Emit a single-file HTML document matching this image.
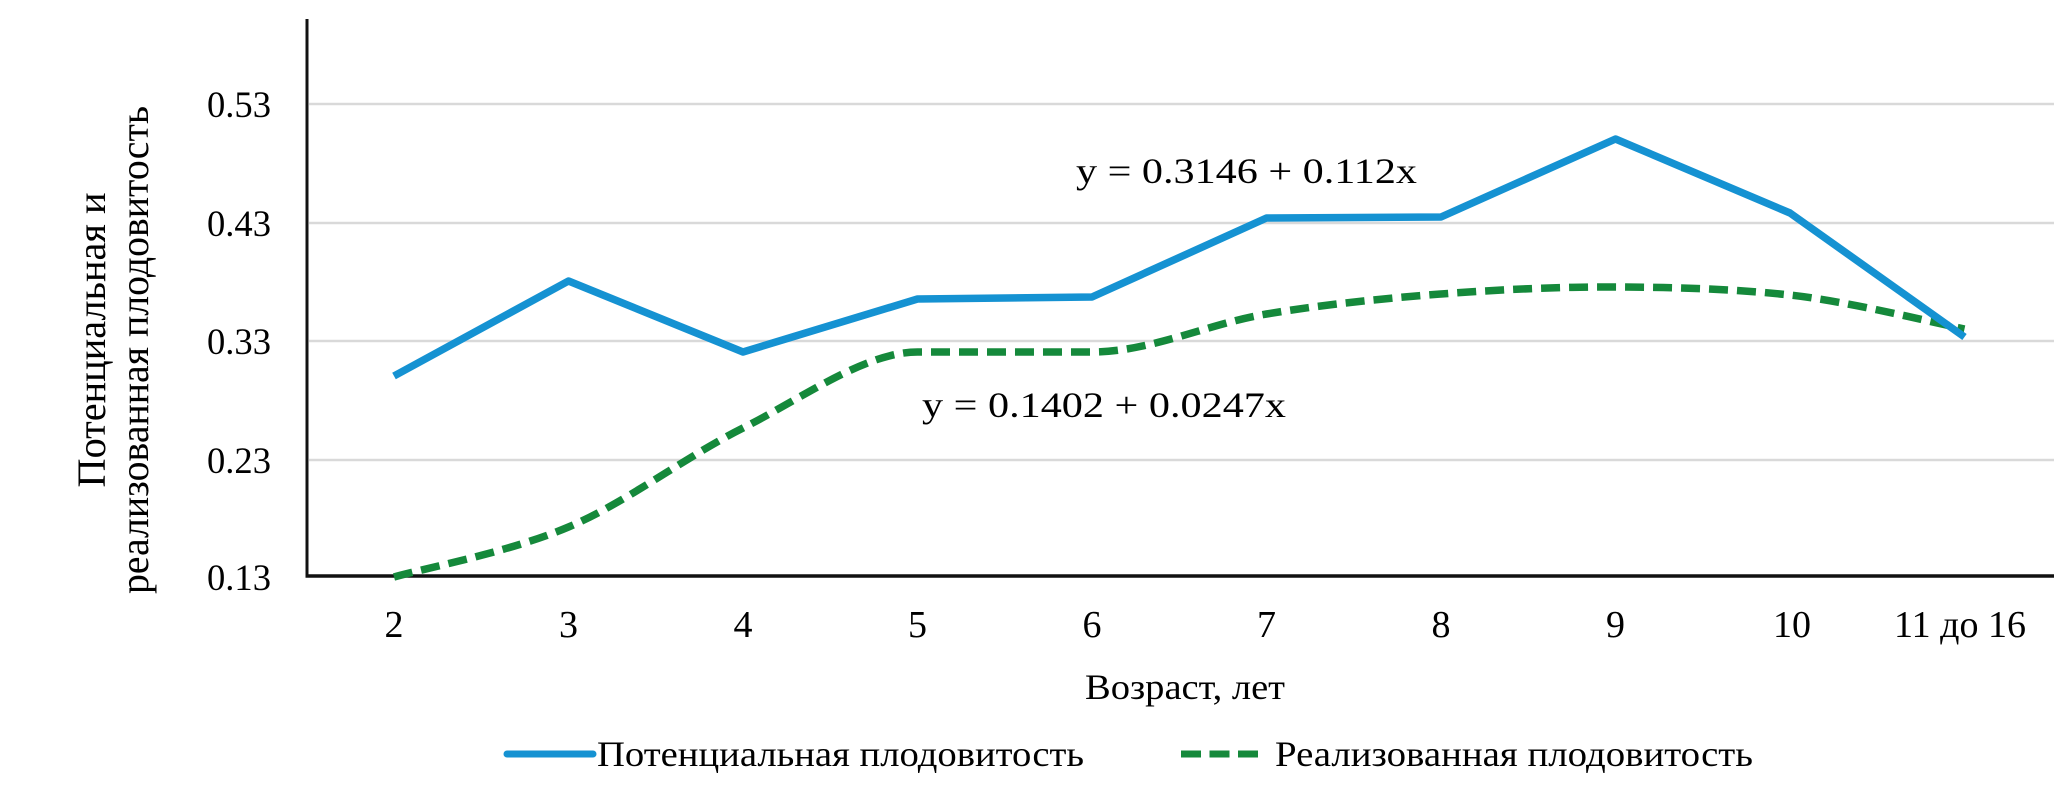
<!DOCTYPE html>
<html>
<head>
<meta charset="utf-8">
<style>
html,body{margin:0;padding:0;background:#fff;}
svg{display:block;}
text{font-family:"Liberation Serif","DejaVu Serif",serif;fill:#000;}
</style>
</head>
<body>
<svg width="2067" height="797" viewBox="0 0 2067 797" xmlns="http://www.w3.org/2000/svg">
  <rect width="2067" height="797" fill="#fff"/>
  <!-- gridlines -->
  <g stroke="#d9d9d9" stroke-width="2.5">
    <line x1="309" y1="104" x2="2054" y2="104"/>
    <line x1="309" y1="223" x2="2054" y2="223"/>
    <line x1="309" y1="341" x2="2054" y2="341"/>
    <line x1="309" y1="460" x2="2054" y2="460"/>
  </g>
  <!-- axes -->
  <line x1="307" y1="19" x2="307" y2="577.5" stroke="#111" stroke-width="3"/>
  <line x1="305.5" y1="576" x2="2054" y2="576" stroke="#111" stroke-width="3.5"/>

  <!-- y tick labels -->
  <g font-size="37" text-anchor="end">
    <text x="271" y="117" textLength="64" lengthAdjust="spacingAndGlyphs">0.53</text>
    <text x="271" y="236" textLength="64" lengthAdjust="spacingAndGlyphs">0.43</text>
    <text x="271" y="354" textLength="64" lengthAdjust="spacingAndGlyphs">0.33</text>
    <text x="271" y="473" textLength="64" lengthAdjust="spacingAndGlyphs">0.23</text>
    <text x="271" y="590" textLength="64" lengthAdjust="spacingAndGlyphs">0.13</text>
  </g>

  <!-- y axis title -->
  <text font-size="40" text-anchor="middle" transform="translate(105,340) rotate(-90)" textLength="295" lengthAdjust="spacingAndGlyphs">Потенциальная и</text>
  <text font-size="40" text-anchor="middle" transform="translate(148,350) rotate(-90)" textLength="488" lengthAdjust="spacingAndGlyphs">реализованная плодовитость</text>

  <!-- x tick labels -->
  <g font-size="38" text-anchor="middle">
    <text x="394" y="637">2</text>
    <text x="568.5" y="637">3</text>
    <text x="743" y="637">4</text>
    <text x="917.5" y="637">5</text>
    <text x="1092" y="637">6</text>
    <text x="1266.5" y="637">7</text>
    <text x="1441" y="637">8</text>
    <text x="1615.5" y="637">9</text>
    <text x="1792" y="637">10</text>
    <text x="1960" y="637" textLength="132" lengthAdjust="spacingAndGlyphs">11 до 16</text>
  </g>

  <!-- x axis title -->
  <text x="1085" y="699" font-size="36" textLength="200" lengthAdjust="spacingAndGlyphs">Возраст, лет</text>

  <!-- series: green dashed smoothed -->
  <path d="M394,577 C423.1,568.7 510.3,551.8 568.5,527 C626.7,502.2 684.8,457.2 743,428 C801.2,398.8 865,352 917.5,352 C975.7,352 1033.8,352 1092,352 C1150.2,352 1208.3,323.7 1266.5,314 C1324.7,304.3 1382.8,298.5 1441,294 C1499.2,289.5 1557.3,286.8 1615.5,287 C1673.7,287.2 1731.8,288.7 1790,295 C1848.2,301.3 1935.4,323 1964.5,329"
        fill="none" stroke="#15893b" stroke-width="7.5" stroke-dasharray="19 9"/>

  <!-- series: blue solid -->
  <polyline points="394,376 568.5,281 743,352 917.5,299 1092,297 1266.5,218 1441,217 1615.5,139 1790,213 1964.5,337"
        fill="none" stroke="#1592d2" stroke-width="7.5" stroke-linejoin="round"/>

  <!-- equations -->
  <text x="1076" y="183" font-size="36" textLength="341" lengthAdjust="spacingAndGlyphs">y = 0.3146 + 0.112x</text>
  <text x="922" y="417" font-size="36" textLength="364" lengthAdjust="spacingAndGlyphs">y = 0.1402 + 0.0247x</text>

  <!-- legend -->
  <line x1="507" y1="754" x2="593" y2="754" stroke="#1592d2" stroke-width="7" stroke-linecap="round"/>
  <text x="597" y="766" font-size="36" textLength="487" lengthAdjust="spacingAndGlyphs">Потенциальная плодовитость</text>
  <line x1="1181" y1="754" x2="1258" y2="754" stroke="#15893b" stroke-width="7" stroke-dasharray="20 8.5"/>
  <text x="1275" y="766" font-size="36" textLength="478" lengthAdjust="spacingAndGlyphs">Реализованная плодовитость</text>
</svg>
</body>
</html>
